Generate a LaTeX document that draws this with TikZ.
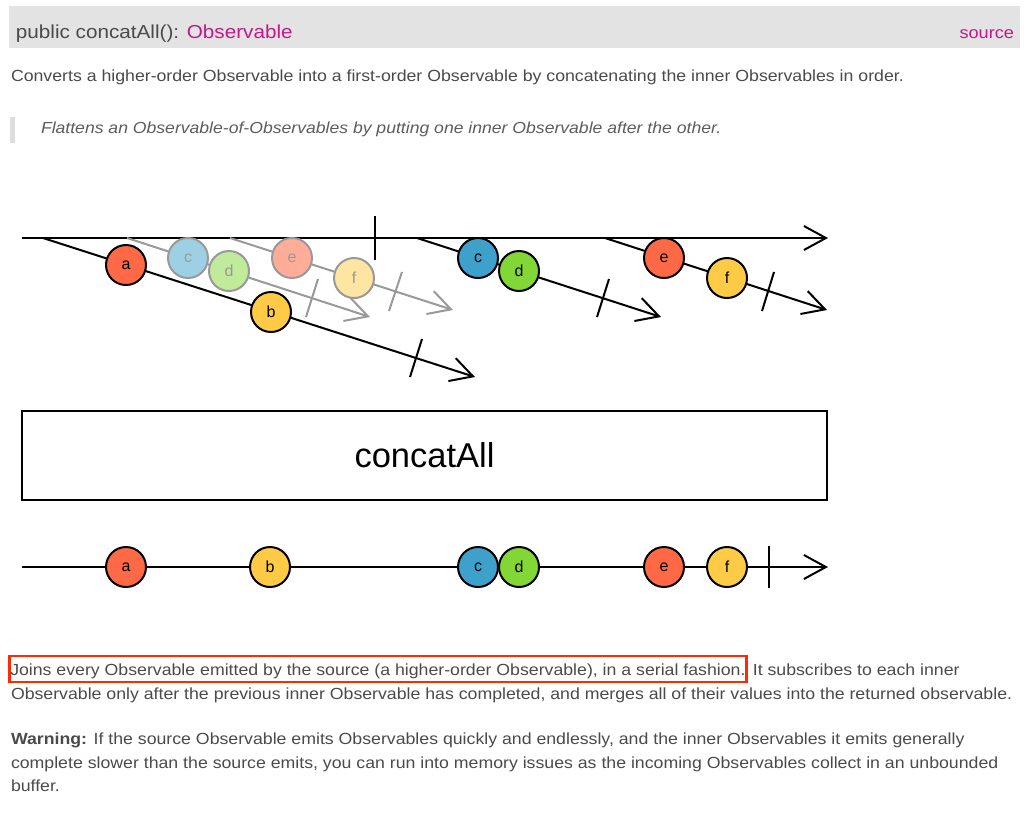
\documentclass[tikz,border=0pt]{standalone}
\usepackage{fontspec}
\setmainfont{Liberation Sans}
\newfontfamily\pagefont[FakeStretch=1.1]{Liberation Sans}
\usepackage{tikz}
\usetikzlibrary{arrows.meta}

\definecolor{marbred}{HTML}{FF6946}
\definecolor{marbyellow}{HTML}{FFCB46}
\definecolor{marbblue}{HTML}{3EA1CB}
\definecolor{marbgreen}{HTML}{82D736}
\definecolor{pagetext}{HTML}{4A4A4A}
\definecolor{linkpink}{HTML}{C2198A}
\definecolor{bandgray}{HTML}{E3E3E3}
\definecolor{quotebar}{HTML}{DDDDDD}
\definecolor{fadegray}{HTML}{999999}
\definecolor{hilite}{HTML}{FF2A00}

\begin{document}
\begin{tikzpicture}[x=1pt, y=-1pt, line width=2pt,
    >={Straight Barb[length=22pt, width=24pt]},
    marble/.style={circle, draw=black, line width=2pt, minimum size=40pt,
      inner sep=0pt, font=\fontsize{16}{16}\selectfont},
    ghost/.style={marble, draw=fadegray, text=fadegray},
    timeline/.style={->, line width=2pt},
    fadeline/.style={->, line width=2pt, draw=fadegray},
    bodytext/.style={anchor=base west, inner sep=0pt, text=pagetext,
      font=\pagefont\fontsize{16.1}{19}\selectfont}]
    \useasboundingbox (0,0) rectangle (1024,815);

    % Header band
    \fill[bandgray] (9,6) rectangle (1020,48);
    \node[bodytext, font=\pagefont\fontsize{18.8}{24}\selectfont] (sig) at (15,38)
        {public concatAll(): \textcolor{linkpink}{Observable}};
    \node[anchor=base east, inner sep=0pt, text=linkpink,
        font=\pagefont\fontsize{16.5}{20}\selectfont] (src) at (1015,38) {source};

    % Description
    \node[bodytext] (descr) at (10,81) {Converts a higher-order Observable into a first-order Observable by concatenating the inner Observables in order.};

    % Quote
    \fill[quotebar] (10,117) rectangle (15,143);
    \node[bodytext, text=pagetext!90, font=\pagefont\fontsize{16}{19}\selectfont\itshape] (quote) at (40,133)
        {Flattens an Observable-of-Observables by putting one inner Observable after the other.};

    % Source timeline
    \coordinate (srcs) at (22,238);
    \coordinate (srce) at (828,238);
    \draw[timeline] (srcs) -- (srce);
    \draw (375,216) -- (375,260);

    % Inner timelines
    \coordinate (g1s) at (127,238);
    \coordinate (g1e) at (370,317);
    \coordinate (g2s) at (230,238);
    \coordinate (g2e) at (453,310);
    \coordinate (in1s) at (43,238);
    \coordinate (in1e) at (475,377);
    \coordinate (in2s) at (417,238);
    \coordinate (in2e) at (661,317);
    \coordinate (in3s) at (605,238);
    \coordinate (in3e) at (827,310);
    \draw[fadeline] (g1s) -- (g1e);
    \draw[fadeline] (g2s) -- (g2e);
    \draw[fadegray] (318,279) -- (306,317);
    \draw[fadegray] (402,272) -- (389,311);
    \draw[timeline] (in1s) -- (in1e);
    \draw[timeline] (in2s) -- (in2e);
    \draw[timeline] (in3s) -- (in3e);
    \draw (422,339) -- (410,377);
    \draw (609,279) -- (597,317);
    \draw (774,272) -- (762,311);

    % Marbles on inner timelines
    \node[ghost, fill=marbblue!50] (gc) at (188,258) {c};
    \node[ghost, fill=marbgreen!50] (gd) at (229,271) {d};
    \node[ghost, fill=marbred!55] (ge) at (292,258) {e};
    \node[ghost, fill=marbyellow!50] (gf) at (354,278) {f};
    \node[marble, fill=marbred] (ia) at (126,265) {a};
    \node[marble, fill=marbyellow] (ib) at (271,312) {b};
    \node[marble, fill=marbblue] (ic) at (478,258) {c};
    \node[marble, fill=marbgreen] (id) at (519,271) {d};
    \node[marble, fill=marbred] (ie) at (664,258) {e};
    \node[marble, fill=marbyellow] (if) at (727,278) {f};

    % Operator box
    \node[draw, line width=2pt, minimum width=805pt, minimum height=89pt,
        font=\fontsize{34.5}{34}\selectfont] (op) at (424.5,455.5) {concatAll};

    % Result timeline
    \coordinate (outs) at (22,567);
    \coordinate (oute) at (828,567);
    \draw[timeline] (outs) -- (oute);
    \draw (769,546) -- (769,588);
    \node[marble, fill=marbred] (oa) at (126,567) {a};
    \node[marble, fill=marbyellow] (ob) at (270,567) {b};
    \node[marble, fill=marbblue] (oc) at (478,567) {c};
    \node[marble, fill=marbgreen] (od) at (519,567) {d};
    \node[marble, fill=marbred] (oe) at (664,567) {e};
    \node[marble, fill=marbyellow] (of) at (727,567) {f};

    % Explanation
    \node[bodytext, draw=hilite, line width=2.5pt, inner xsep=1pt, inner ysep=2pt,
        text height=17pt, text depth=5pt] (joins) at (8,675)
        {Joins every Observable emitted by the source (a higher-order Observable), in a serial fashion.};
    \node[bodytext] (joinsrest) at ([xshift=4pt]joins.base east) {It subscribes to each inner};
    \node[bodytext] (joins2) at (10,699) {Observable only after the previous inner Observable has completed, and merges all of their values into the returned observable.};
    \node[bodytext] (warn1) at (10,744) {\textbf{Warning:} If the source Observable emits Observables quickly and endlessly, and the inner Observables it emits generally};
    \node[bodytext] (warn2) at (10,768) {complete slower than the source emits, you can run into memory issues as the incoming Observables collect in an unbounded};
    \node[bodytext] (warn3) at (10,791) {buffer.};
\end{tikzpicture}
\end{document}
